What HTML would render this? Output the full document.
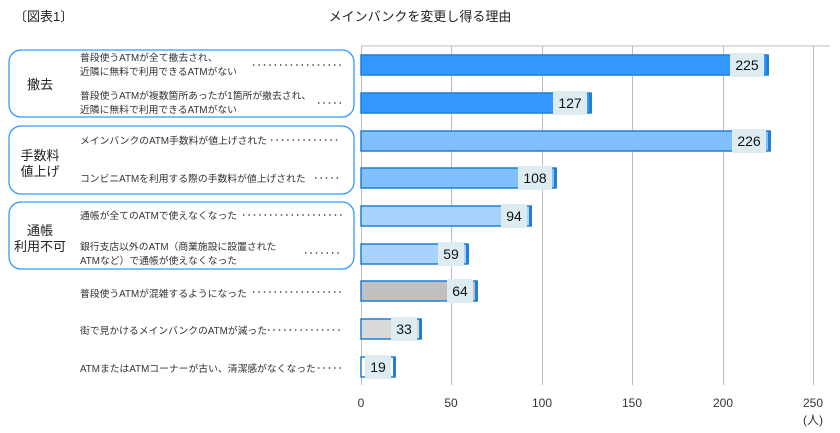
<!DOCTYPE html>
<html><head><meta charset="utf-8"><style>
html,body{margin:0;padding:0;background:#fff}
svg{display:block;font-family:"Liberation Sans","Noto Sans CJK JP",sans-serif}
</style></head><body>
<svg width="840" height="433" viewBox="0 0 840 433">
<text x="14" y="21" font-size="13" fill="#222">〔図表1〕</text>
<text x="420" y="21" font-size="13" fill="#222" text-anchor="middle">メインバンクを変更し得る理由</text>
<g stroke="#bdbdbd" stroke-width="1">
<line x1="361" y1="46" x2="830" y2="46"/>
<line x1="361.5" y1="46" x2="361.5" y2="385"/>
<line x1="451.5" y1="46" x2="451.5" y2="385"/>
<line x1="542.5" y1="46" x2="542.5" y2="385"/>
<line x1="632.5" y1="46" x2="632.5" y2="385"/>
<line x1="723.5" y1="46" x2="723.5" y2="385"/>
<line x1="813.5" y1="46" x2="813.5" y2="385"/>
</g>
<g font-size="12" fill="#333" text-anchor="middle">
<text x="361" y="407">0</text><text x="451" y="407">50</text><text x="542" y="407">100</text>
<text x="632" y="407">150</text><text x="723" y="407">200</text><text x="813" y="407">250</text>
<text x="813" y="424">(人)</text>
</g>
<g fill="none" stroke="#3399ff" stroke-width="1.3">
<rect x="9" y="50" width="345" height="67" rx="12"/>
<rect x="9" y="126" width="345" height="68" rx="12"/>
<rect x="9" y="202" width="345" height="67" rx="12"/>
</g>
<g font-size="13" fill="#222" text-anchor="middle">
<text x="40" y="89">撤去</text>
<text x="40" y="160">手数料</text><text x="40" y="176">値上げ</text>
<text x="40" y="235">通帳</text><text x="40" y="251">利用不可</text>
</g>
<g font-size="9.8" fill="#333">
<text x="80" y="61">普段使うATMが全て撤去され、</text>
<text x="80" y="75">近隣に無料で利用できるATMがない</text>
<text x="80" y="99">普段使うATMが複数箇所あったが1箇所が撤去され、</text>
<text x="80" y="113">近隣に無料で利用できるATMがない</text>
<text x="80" y="144">メインバンクのATM手数料が値上げされた</text>
<text x="80" y="182">コンビニATMを利用する際の手数料が値上げされた</text>
<text x="80" y="219">通帳が全てのATMで使えなくなった</text>
<text x="80" y="250">銀行支店以外のATM（商業施設に設置された</text>
<text x="80" y="264">ATMなど）で通帳が使えなくなった</text>
<text x="80" y="297">普段使うATMが混雑するようになった</text>
<text x="80" y="334">街で見かけるメインバンクのATMが減った</text>
<text x="80" y="372">ATMまたはATMコーナーが古い、清潔感がなくなった</text>
</g>
<g stroke="#444" stroke-width="1.4" stroke-dasharray="1.4 4" fill="none">
<line x1="253" y1="65" x2="342" y2="65"/>
<line x1="318" y1="103" x2="342" y2="103"/>
<line x1="271" y1="140" x2="340" y2="140"/>
<line x1="315" y1="178" x2="340" y2="178"/>
<line x1="243" y1="215" x2="342" y2="215"/>
<line x1="305" y1="253" x2="342" y2="253"/>
<line x1="253" y1="292" x2="342" y2="292"/>
<line x1="268" y1="330" x2="342" y2="330"/>
<line x1="318" y1="368" x2="342" y2="368"/>
</g>
<g stroke="#1f7fd6" stroke-width="1.5">
<rect x="361" y="55" width="407" height="20" fill="#3399ff"/>
<rect x="361" y="93" width="230" height="20" fill="#3399ff"/>
<rect x="361" y="131" width="409" height="20" fill="#80c0ff"/>
<rect x="361" y="168" width="195" height="20" fill="#80c0ff"/>
<rect x="361" y="206" width="170" height="20" fill="#a8d3ff"/>
<rect x="361" y="244" width="107" height="20" fill="#a8d3ff"/>
<rect x="361" y="281" width="116" height="20" fill="#c0c0c0"/>
<rect x="361" y="319" width="60" height="20" fill="#d9d9d9"/>
<rect x="361" y="357" width="34" height="20" fill="#ffffff"/>
</g>
<g fill="#1f7fd6">
<rect x="766" y="55" width="3" height="20"/><rect x="589" y="93" width="3" height="20"/>
<rect x="768" y="131" width="3" height="20"/><rect x="554" y="168" width="3" height="20"/>
<rect x="529" y="206" width="3" height="20"/><rect x="466" y="244" width="3" height="20"/>
<rect x="475" y="281" width="3" height="20"/><rect x="419" y="319" width="3" height="20"/>
<rect x="393" y="357" width="3" height="20"/>
</g>
<g fill="#dcecf1">
<rect x="730" y="53" width="34" height="24"/><rect x="553" y="91" width="34" height="24"/>
<rect x="732" y="129" width="34" height="24"/><rect x="518" y="166" width="34" height="24"/>
<rect x="501" y="204" width="26" height="24"/><rect x="438" y="242" width="26" height="24"/>
<rect x="447" y="279" width="26" height="24"/><rect x="391" y="317" width="26" height="24"/>
<rect x="365" y="355" width="26" height="24"/>
</g>
<g font-size="14" fill="#111" text-anchor="middle">
<text x="747" y="70">225</text><text x="570" y="108">127</text>
<text x="749" y="146">226</text><text x="535" y="183">108</text>
<text x="514" y="221">94</text><text x="451" y="259">59</text>
<text x="460" y="296">64</text><text x="404" y="334">33</text>
<text x="378" y="372">19</text>
</g>
</svg>
</body></html>
